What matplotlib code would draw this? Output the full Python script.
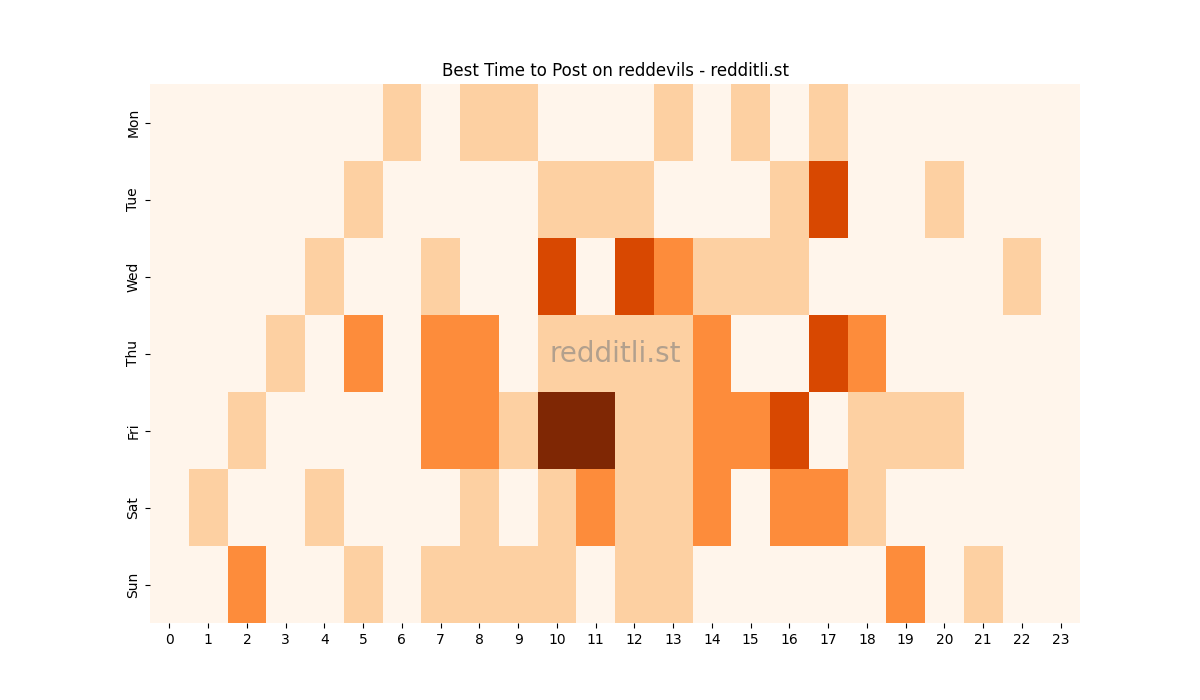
import matplotlib
matplotlib.use("Agg")
import matplotlib.pyplot as plt
import seaborn as sns
import numpy as np

days = ["Mon", "Tue", "Wed", "Thu", "Fri", "Sat", "Sun"]
hours = list(range(24))
mon = [0,0,0,0,0,0,1,0,1,1,0,0,0,1,0,1,0,1,0,0,0,0,0,0]
tue = [0,0,0,0,0,1,0,0,0,0,1,1,1,0,0,0,1,3,0,0,1,0,0,0]
wed = [0,0,0,0,1,0,0,1,0,0,3,0,3,2,1,1,1,0,0,0,0,0,1,0]
thu = [0,0,0,1,0,2,0,2,2,0,1,1,1,1,2,0,0,3,2,0,0,0,0,0]
fri = [0,0,1,0,0,0,0,2,2,1,4,4,1,1,2,2,3,0,1,1,1,0,0,0]
sat = [0,1,0,0,1,0,0,0,1,0,1,2,1,1,2,0,2,2,1,0,0,0,0,0]
sun = [0,0,2,0,0,1,0,1,1,1,1,0,1,1,0,0,0,0,0,2,0,1,0,0]
data = np.array([mon, tue, wed, thu, fri, sat, sun])

fig = plt.figure(figsize=(12, 7), dpi=100)
ax = fig.add_subplot(111)
sns.heatmap(data, cmap="Oranges", vmin=0, vmax=4, cbar=False, ax=ax,
            xticklabels=hours, yticklabels=days)
ax.set_yticklabels(days, rotation=90, va="center")
ax.set_xticklabels(hours, rotation=0)
ax.set_title("Best Time to Post on reddevils - redditli.st")
ax.text(0.5, 0.5, "redditli.st", transform=ax.transAxes, ha="center", va="center",
        fontsize=20, color="grey", alpha=0.6)
fig.savefig("out.png")
